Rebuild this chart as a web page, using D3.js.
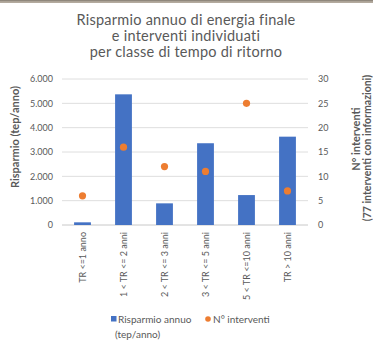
<!DOCTYPE html>
<html>
<head>
<meta charset="utf-8">
<script src="https://cdn.jsdelivr.net/npm/d3@7/dist/d3.min.js"></script>
<style>
  html, body { margin: 0; padding: 0; background: #ffffff; }
  svg { display: block; font-family: Lato, "Open Sans", sans-serif; }
</style>
</head>
<body>
<svg id="chart" width="373" height="342"></svg>
<script>
// Classi di tempo di ritorno
const categories = [
  "TR <=1 anno",
  "1 < TR <= 2 anni",
  "2 < TR <= 3 anni",
  "3 < TR <= 5 anni",
  "5 < TR <=10 anni",
  "TR > 10 anni"
];
// Risparmio annuo (tep/anno)
const risparmio = [110, 5370, 890, 3360, 1230, 3630];
// Numero di interventi per classe
const interventi = [6, 16, 12, 11, 25, 7];
const leftTicks = [0, 1000, 2000, 3000, 4000, 5000, 6000];
const rightTicks = [0, 5, 10, 15, 20, 25, 30];
const titleLines = [
  "Risparmio annuo di energia finale",
  "e interventi individuati",
  "per classe di tempo di ritorno"
];

const svg = d3.select("#chart");
const W = 373, H = 342;
const plot = { left: 62, right: 308, top: 79, bottom: 225 };
const textColor = "#595959";

// cornice superiore
svg.append("rect").attr("x", 0).attr("y", 0).attr("width", W).attr("height", 3).attr("fill", "#b3aa9e");
svg.append("rect").attr("x", 0).attr("y", 0).attr("width", W).attr("height", 1.2).attr("fill", "#8f877c");

const x = d3.scaleBand().domain(categories).range([plot.left, plot.right]).paddingInner(0.59).paddingOuter(0.295);
const yL = d3.scaleLinear().domain([0, 6000]).range([plot.bottom, plot.top]);
const yR = d3.scaleLinear().domain([0, 30]).range([plot.bottom, plot.top]);

// titolo
svg.append("g").selectAll("text").data(titleLines).join("text")
  .attr("x", 186).attr("y", (d, i) => 25 + i * 16)
  .attr("text-anchor", "middle").attr("fill", textColor)
  .attr("font-size", 14.5).attr("letter-spacing", 0.25).text(d => d);

// griglia
svg.append("g").selectAll("line").data(leftTicks).join("line")
  .attr("x1", plot.left).attr("x2", plot.right)
  .attr("y1", d => yL(d)).attr("y2", d => yL(d))
  .attr("stroke", d => d === 0 ? "#c8c8c8" : "#dedede").attr("stroke-width", 1);

// asse sinistro
const fmt = d => d3.format(",")(d).replace(/,/g, ".");
const axL = svg.append("g").attr("transform", `translate(${plot.left},0)`)
  .call(d3.axisLeft(yL).tickValues(leftTicks).tickFormat(fmt).tickSize(0).tickPadding(9));
axL.select(".domain").remove();
axL.selectAll("text").attr("fill", textColor).attr("font-size", 9).attr("font-family", "Lato, sans-serif");

// asse destro
const axR = svg.append("g").attr("transform", `translate(${plot.right},0)`)
  .call(d3.axisRight(yR).tickValues(rightTicks).tickSize(0).tickPadding(10));
axR.select(".domain").remove();
axR.selectAll("text").attr("fill", textColor).attr("font-size", 9).attr("font-family", "Lato, sans-serif");

// barre
svg.append("g").selectAll("rect").data(risparmio).join("rect")
  .attr("x", (d, i) => x(categories[i]))
  .attr("width", x.bandwidth())
  .attr("y", d => yL(d))
  .attr("height", d => yL(0) - yL(d))
  .attr("fill", "#4472c4");

// punti
svg.append("g").selectAll("circle").data(interventi).join("circle")
  .attr("cx", (d, i) => x(categories[i]) + x.bandwidth() / 2)
  .attr("cy", d => yR(d))
  .attr("r", 3.6)
  .attr("fill", "#ed7d31");

// etichette categorie
svg.append("g").selectAll("text").data(categories).join("text")
  .attr("transform", d => `translate(${x(d) + x.bandwidth() / 2 + 3},232) rotate(-90)`)
  .attr("text-anchor", "end").attr("fill", textColor)
  .attr("font-size", 9).text(d => d);

// titoli assi
svg.append("text")
  .attr("transform", "translate(19,137) rotate(-90)")
  .attr("text-anchor", "middle").attr("fill", textColor)
  .attr("font-size", 11).attr("font-weight", "bold")
  .text("Risparmio (tep/anno)");
svg.append("text")
  .attr("transform", "translate(360,139) rotate(-90)")
  .attr("text-anchor", "middle").attr("fill", textColor)
  .attr("font-size", 11).attr("font-weight", "bold")
  .text("N° interventi");
svg.append("text")
  .attr("transform", "translate(370.5,148) rotate(-90)")
  .attr("text-anchor", "middle").attr("fill", textColor)
  .attr("font-size", 10.5).attr("font-weight", "bold")
  .text("(77 interventi con informazioni)");

// legenda
const lg = svg.append("g").attr("font-size", 10).attr("fill", textColor);
lg.append("rect").attr("x", 111).attr("y", 316).attr("width", 5.5).attr("height", 5.5).attr("fill", "#4472c4");
lg.append("text").attr("x", 118).attr("y", 323).text("Risparmio annuo");
lg.append("text").attr("x", 115).attr("y", 338).text("(tep/anno)");
lg.append("circle").attr("cx", 208).attr("cy", 319).attr("r", 2.8).attr("fill", "#ed7d31");
lg.append("text").attr("x", 213).attr("y", 323).text("N° interventi");
</script>
</body>
</html>
